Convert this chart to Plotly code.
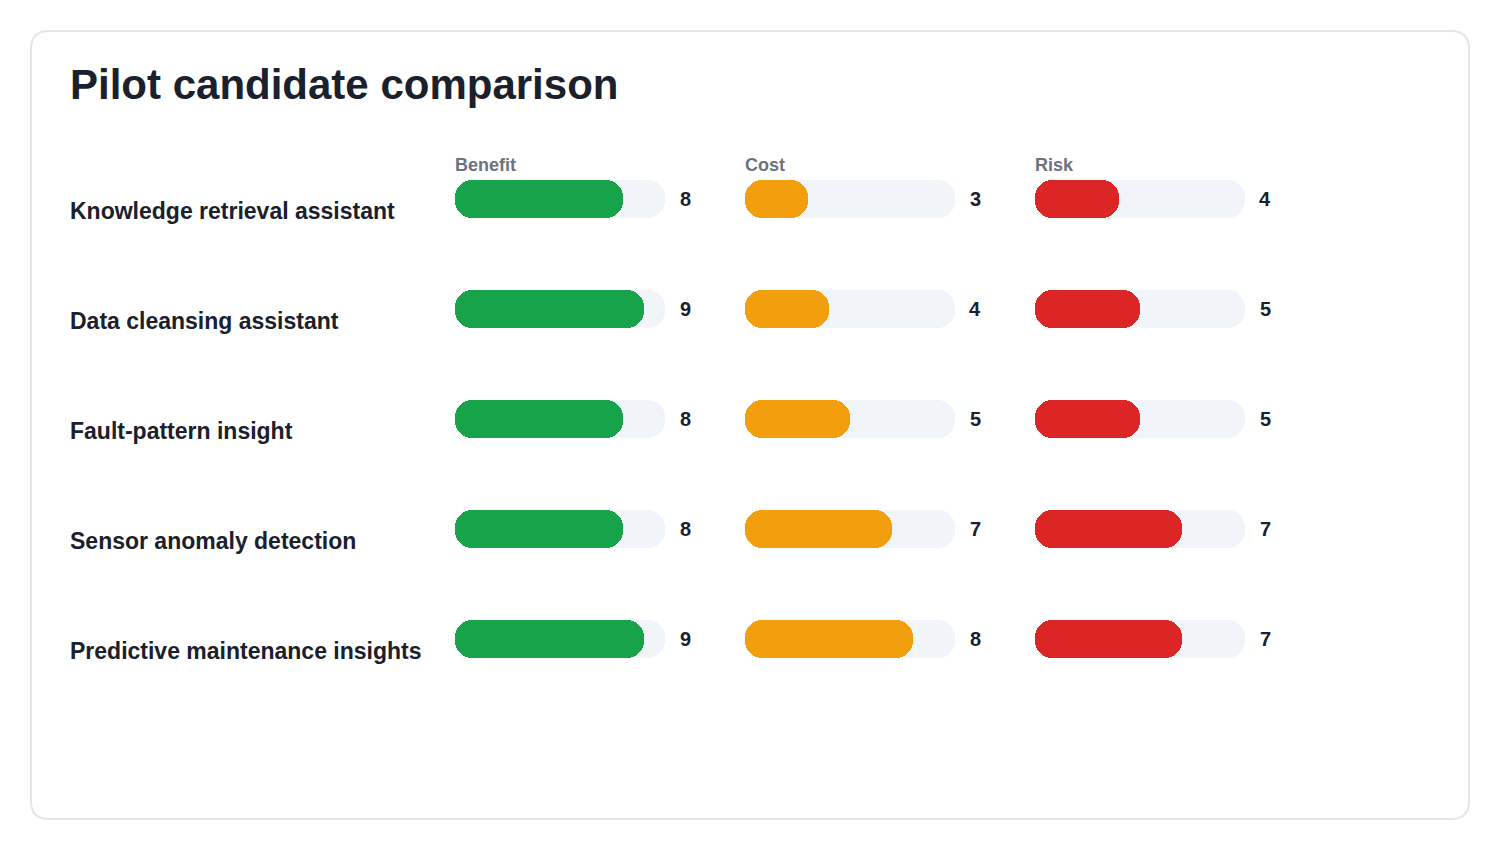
import plotly.graph_objects as go

# ---- data ----
candidates = [
    "Knowledge retrieval assistant",
    "Data cleansing assistant",
    "Fault-pattern insight",
    "Sensor anomaly detection",
    "Predictive maintenance insights",
]
benefit = [8, 9, 8, 8, 9]
cost = [3, 4, 5, 7, 8]
risk = [4, 5, 5, 7, 7]
metric_names = ["Benefit", "Cost", "Risk"]
max_score = 10
title_text = "Pilot candidate comparison"

# ---- styling ----
W, H = 1500, 850
FONT = "Liberation Sans, Arial, sans-serif"
colors = ["#16a34a", "#f39e0c", "#dc2626"]
track_color = "#f1f4f9"
text_dark = "#1a202c"
header_gray = "#6b7280"


def px_x(p):
    return p / W


def px_y(p):
    return 1 - p / H


col_left = [455, 745, 1035]
col_width = 210
row_top, row_bottom = 144, 694
bar_frac = 38 / 110
RADIUS = 17

fig = go.Figure()
series = [benefit, cost, risk]
axis_ids = ["x", "x2", "x3"]


def pill(values, color, ax):
    # an explicit base makes plotly round all four corners -> pill shape
    fig.add_trace(go.Bar(
        x=values, base=[0] * len(values),
        y=candidates, orientation="h", xaxis=ax, yaxis="y", width=bar_frac,
        marker=dict(color=color, cornerradius=RADIUS, line=dict(width=0)),
        hoverinfo="skip", showlegend=False,
    ))


for i, (vals, ax) in enumerate(zip(series, axis_ids)):
    pill([max_score] * len(candidates), track_color, ax)
    pill(vals, colors[i], ax)

annotations = []
annotations.append(dict(
    text=f"<b>{title_text}</b>", xref="paper", yref="paper",
    x=px_x(68), y=px_y(85), xanchor="left", yanchor="middle",
    showarrow=False, font=dict(family=FONT, size=42, color=text_dark),
))
for r, name in enumerate(candidates):
    annotations.append(dict(
        text=f"<b>{name}</b>", xref="paper", yref="y",
        x=px_x(68), y=name, yshift=-12, xanchor="left", yanchor="middle",
        showarrow=False, font=dict(family=FONT, size=23, color=text_dark),
    ))
    for i, (vals, ax) in enumerate(zip(series, axis_ids)):
        annotations.append(dict(
            text=f"<b>{vals[r]}</b>", xref=ax, yref="y",
            x=max_score, y=name, xshift=20, xanchor="center", yanchor="middle",
            showarrow=False, font=dict(family=FONT, size=20, color=text_dark),
        ))
for i, ax in enumerate(axis_ids):
    annotations.append(dict(
        text=f"<b>{metric_names[i]}</b>", xref=f"{ax} domain", yref="y",
        x=0, y=candidates[0], yshift=34, xshift=-2, xanchor="left", yanchor="middle",
        showarrow=False, font=dict(family=FONT, size=18, color=header_gray),
    ))

# card border (rounded rectangle)
l, t, rr, b, rad = 31, 31, 1469, 819, 18
path = (
    f"M {px_x(l + rad)} {px_y(t)} L {px_x(rr - rad)} {px_y(t)} "
    f"Q {px_x(rr)} {px_y(t)} {px_x(rr)} {px_y(t + rad)} "
    f"L {px_x(rr)} {px_y(b - rad)} "
    f"Q {px_x(rr)} {px_y(b)} {px_x(rr - rad)} {px_y(b)} "
    f"L {px_x(l + rad)} {px_y(b)} "
    f"Q {px_x(l)} {px_y(b)} {px_x(l)} {px_y(b - rad)} "
    f"L {px_x(l)} {px_y(t + rad)} "
    f"Q {px_x(l)} {px_y(t)} {px_x(l + rad)} {px_y(t)} Z"
)
shapes = [dict(type="path", xref="paper", yref="paper", path=path,
               line=dict(color="#e3e5ea", width=2), fillcolor="rgba(0,0,0,0)",
               layer="below")]

axis_common = dict(showgrid=False, zeroline=False, showticklabels=False,
                   showline=False, ticks="", range=[0, max_score], fixedrange=True)

fig.update_layout(
    width=W, height=H, margin=dict(l=0, r=0, t=0, b=0),
    paper_bgcolor="white", plot_bgcolor="rgba(0,0,0,0)",
    barmode="overlay", bargap=0,
    annotations=annotations, shapes=shapes,
    xaxis=dict(domain=[px_x(col_left[0]), px_x(col_left[0] + col_width)], anchor="y", **axis_common),
    xaxis2=dict(domain=[px_x(col_left[1]), px_x(col_left[1] + col_width)], anchor="y", **axis_common),
    xaxis3=dict(domain=[px_x(col_left[2]), px_x(col_left[2] + col_width)], anchor="y", **axis_common),
    yaxis=dict(domain=[px_y(row_bottom), px_y(row_top)], range=[len(candidates) - 0.5, -0.5],
               showgrid=False, zeroline=False, showticklabels=False, showline=False,
               ticks="", fixedrange=True),
    font=dict(family=FONT),
)

fig.write_html("out.html")
